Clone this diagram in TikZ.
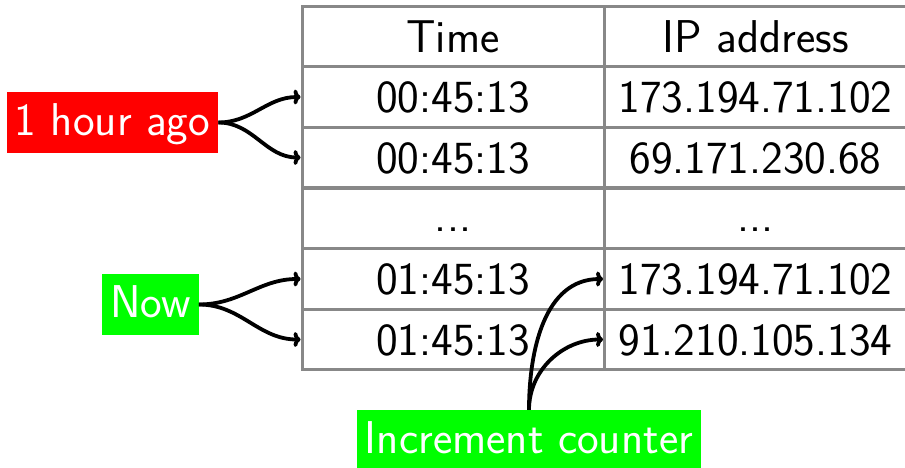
\documentclass[tikz,border=0pt]{standalone}
\usepackage{fontspec}
\setsansfont{lmsans17-regular}[Extension=.otf]
\usetikzlibrary{arrows.meta}
\definecolor{tgray}{RGB}{136,136,136}
\definecolor{tred}{RGB}{255,0,0}
\definecolor{tgreen}{RGB}{0,255,0}
\tikzset{
  bigfont/.style={font=\sffamily\fontsize{46}{55}\selectfont},
  cell/.style={draw=tgray, line width=3pt, minimum width=302pt, minimum height=60.5pt,
    inner sep=0pt, text height=31.4pt, text depth=0pt, bigfont},
  dotcell/.style={cell, text height=26pt},
  tag/.style={fill=#1, text=white, inner xsep=8pt, inner ysep=0pt, minimum height=61pt,
    text height=25.6pt, text depth=0pt, bigfont},
  conn/.style={-{Computer Modern Rightarrow[length=7pt,width=15pt]}, line width=3.8pt, black}
}
\begin{document}
\begin{tikzpicture}[x=1pt,y=-1pt]
\useasboundingbox (0,0) rectangle (905,468);
\clip (0,0) rectangle (905,468);
% table
\node[cell] (h1) at (453,36.5) {Time};
\node[cell] (h2) at (755.5,36.5) {IP address};
\node[cell] (a1) at (453,97) {00:45:13};
\node[cell] (a2) at (755.5,97) {173.194.71.102};
\node[cell] (b1) at (453,157.5) {00:45:13};
\node[cell] (b2) at (755.5,157.5) {69.171.230.68};
\node[dotcell] (d1) at (453,218.5) {...};
\node[dotcell] (d2) at (755.5,218.5) {...};
\node[cell] (c1) at (453,279) {01:45:13};
\node[cell] (c2) at (755.5,279) {173.194.71.102};
\node[cell] (e1) at (453,339.5) {01:45:13};
\node[cell] (e2) at (755.5,339.5) {91.210.105.134};
% tags
\node[tag=tred] (hour) at (112.5,122.5) {1 hour ago};
\node[tag=tgreen] (now) at (150.5,304.5) {Now};
\node[tag=tgreen] (inc) at (529,440.5) {Increment counter};
% connectors
\draw[conn] (hour.east) to[out=0,in=180] (a1.west);
\draw[conn] (hour.east) to[out=0,in=180] (b1.west);
\draw[conn] (now.east) to[out=0,in=180] (c1.west);
\draw[conn] (now.east) to[out=0,in=180] (e1.west);
\draw[conn] (inc.north) to[out=90,in=180] (c2.west);
\draw[conn] (inc.north) to[out=90,in=180] (e2.west);
\end{tikzpicture}
\end{document}
